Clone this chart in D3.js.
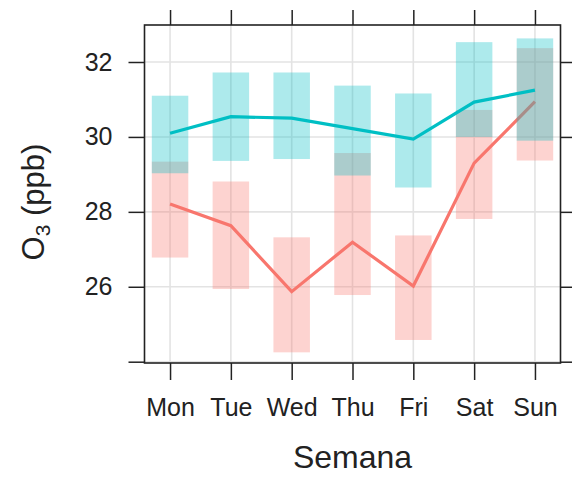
<!DOCTYPE html>
<html>
<head>
<meta charset="utf-8">
<script src="https://cdn.jsdelivr.net/npm/d3@7"></script>
<style>
  html, body { margin: 0; padding: 0; background: #fff; }
  svg { display: block; font-family: "Liberation Sans", Arial, Helvetica, sans-serif; }
</style>
</head>
<body>
<svg id="chart" width="572" height="479"></svg>
<script>
// ---- data ----
const days = ["Mon", "Tue", "Wed", "Thu", "Fri", "Sat", "Sun"];
const yTicks = [24, 26, 28, 30, 32];
const yTickLabels = ["", "26", "28", "30", "32"];

// series 1 (red)
const redMean  = [28.21, 27.63, 25.87, 27.19, 26.02, 29.30, 30.94];
const redLower = [26.78, 25.94, 24.25, 25.78, 24.58, 27.81, 29.37];
const redUpper = [29.34, 28.81, 27.32, 29.57, 27.37, 30.72, 32.37];

// series 2 (cyan)
const cyanMean  = [30.10, 30.54, 30.50, 30.22, 29.94, 30.93, 31.25];
const cyanLower = [29.03, 29.36, 29.41, 28.97, 28.65, 30.00, 29.90];
const cyanUpper = [31.10, 31.72, 31.72, 31.37, 31.16, 32.53, 32.63];

const xTitle = "Semana";

// ---- layout ----
const panel = { left: 144.5, right: 560.5, top: 25, bottom: 363 };
const svg = d3.select("#chart");

const x = d3.scalePoint().domain(days).range([panel.left, panel.right]).padding(0.42);
const y = d3.scaleLinear().domain([24, 32]).range([361.7, 62]);
const barW = x.step() * 0.6;

// grid
const g = svg.append("g");
g.selectAll("line.vgrid").data(days).enter().append("line")
  .attr("x1", d => x(d)).attr("x2", d => x(d))
  .attr("y1", panel.top).attr("y2", panel.bottom)
  .attr("stroke", "#e3e3e3").attr("stroke-width", 1.6);
g.selectAll("line.hgrid").data(yTicks).enter().append("line")
  .attr("x1", panel.left).attr("x2", panel.right)
  .attr("y1", d => y(d)).attr("y2", d => y(d))
  .attr("stroke", "#e3e3e3").attr("stroke-width", 1.6);

const series = [
  { color: "#F8766D", mean: redMean, lower: redLower, upper: redUpper },
  { color: "#00BFC4", mean: cyanMean, lower: cyanLower, upper: cyanUpper }
];

const line = d3.line().x(d => x(d.day)).y(d => y(d.v));

series.forEach(s => {
  const rows = days.map((d, i) => ({ day: d, v: s.mean[i], lo: s.lower[i], hi: s.upper[i] }));
  svg.append("g").selectAll("rect").data(rows).enter().append("rect")
    .attr("x", d => x(d.day) - barW / 2)
    .attr("width", barW)
    .attr("y", d => y(d.hi))
    .attr("height", d => y(d.lo) - y(d.hi))
    .attr("fill", s.color)
    .attr("fill-opacity", 0.32);
  svg.append("path").datum(rows)
    .attr("d", line)
    .attr("fill", "none")
    .attr("stroke", s.color)
    .attr("stroke-width", 3.2);
});

// axes
const axColor = "#222";
const styleAxis = sel => {
  sel.select(".domain").remove();
  sel.selectAll(".tick line").attr("stroke", axColor).attr("stroke-width", 1.5);
  sel.selectAll(".tick text").attr("fill", "#222").style("font-size", "25px")
    .style("font-family", "'Liberation Sans', Arial, sans-serif");
};

svg.append("g").attr("transform", `translate(${panel.left},0)`)
  .call(d3.axisLeft(y).tickValues(yTicks).tickSize(16).tickPadding(16)
    .tickFormat((d, i) => yTickLabels[i]))
  .call(styleAxis);
svg.append("g").attr("transform", `translate(${panel.right},0)`)
  .call(d3.axisRight(y).tickValues(yTicks).tickSize(16).tickFormat(""))
  .call(styleAxis);
svg.append("g").attr("transform", `translate(0,${panel.bottom})`)
  .call(d3.axisBottom(x).tickSize(17).tickPadding(18))
  .call(styleAxis);
svg.append("g").attr("transform", `translate(0,${panel.top})`)
  .call(d3.axisTop(x).tickSize(15).tickFormat(""))
  .call(styleAxis);

// panel box
svg.append("rect")
  .attr("x", panel.left).attr("y", panel.top)
  .attr("width", panel.right - panel.left).attr("height", panel.bottom - panel.top)
  .attr("fill", "none").attr("stroke", axColor).attr("stroke-width", 1.6);

// titles
svg.append("text")
  .attr("x", (panel.left + panel.right) / 2).attr("y", 468)
  .attr("text-anchor", "middle")
  .style("font-size", "32px").attr("fill", "#222")
  .text(xTitle);

const yl = svg.append("text")
  .attr("transform", "translate(44,202) rotate(-90)")
  .attr("text-anchor", "middle")
  .style("font-size", "31px").attr("fill", "#222");
yl.append("tspan").text("O");
yl.append("tspan").attr("dy", 6).style("font-size", "21px").text("3");
yl.append("tspan").attr("dy", -6).text(" (ppb)");
</script>
</body>
</html>
